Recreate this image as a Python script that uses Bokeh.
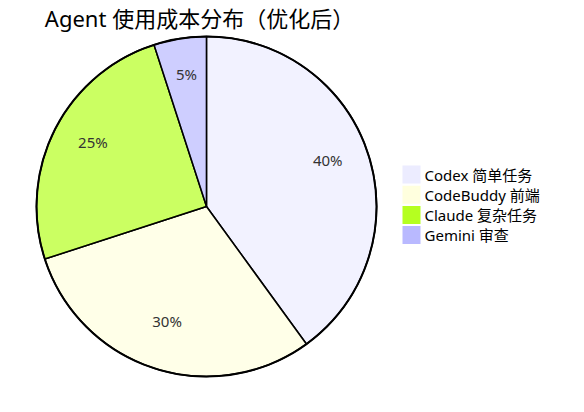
import math
from bokeh.plotting import figure
from bokeh.models import ColumnDataSource, Range1d
from bokeh.core.properties import value
from bokeh.embed import file_html
from bokeh.resources import INLINE

title = "Agent 使用成本分布（优化后）"
labels = ["Codex 简单任务", "CodeBuddy 前端", "Claude 复杂任务", "Gemini 审查"]
values = [40, 30, 25, 5]
colors = ["#ECECFF", "#ffffde", "#b5ff20", "#b9b9ff"]

W, H = 568, 396
FONT = "'Noto Sans', 'Noto Sans CJK SC'"

p = figure(width=W, height=H, output_backend="svg", toolbar_location=None,
           x_range=Range1d(0, W), y_range=Range1d(0, H), min_border=0)
p.axis.visible = False
p.grid.visible = False
p.outline_line_color = None
p.background_fill_color = "white"

cx, cy, r = 206, H - 206, 170
total = sum(values)
starts, ends, lx, ly, txt = [], [], [], [], []
acc = 0.0
for v in values:
    a0 = acc / total * 2 * math.pi
    acc += v
    a1 = acc / total * 2 * math.pi
    starts.append(math.pi / 2 - a1)
    ends.append(math.pi / 2 - a0)
    mid = (a0 + a1) / 2
    lx.append(cx + 0.75 * r * math.sin(mid))
    ly.append(cy + 0.75 * r * math.cos(mid) + 7)
    txt.append(f"{round(v / total * 100)}%")

src = ColumnDataSource(dict(start=starts, end=ends, color=colors, lx=lx, ly=ly, txt=txt))
p.wedge(x=cx, y=cy, radius=r, start_angle="start", end_angle="end", source=src,
        fill_color="color", fill_alpha=0.7, line_color="black", line_width=1.5)
p.circle(x=[cx], y=[cy], radius=r, fill_color=None, line_color="black", line_width=2)
p.text(x="lx", y="ly", text="txt", source=src, text_align="center", text_baseline="middle",
       text_font=value(FONT), text_font_size="15px", text_color="#333333")

# title
p.text(x=[199], y=[H - 17], text=[title], text_align="center", text_baseline="middle",
       text_font=value(FONT), text_font_size="22px", text_color="#000000")

# legend
ys = [H - (174 + 20.2 * i) for i in range(len(labels))]
p.rect(x=[411] * len(labels), y=ys, width=18, height=18, fill_color=colors, line_color=None)
p.text(x=[424] * len(labels), y=ys, text=labels, text_align="left", text_baseline="middle",
       text_font=value(FONT), text_font_size="15px", text_color="#000000")

open("out.html", "w").write(file_html(p, INLINE))
